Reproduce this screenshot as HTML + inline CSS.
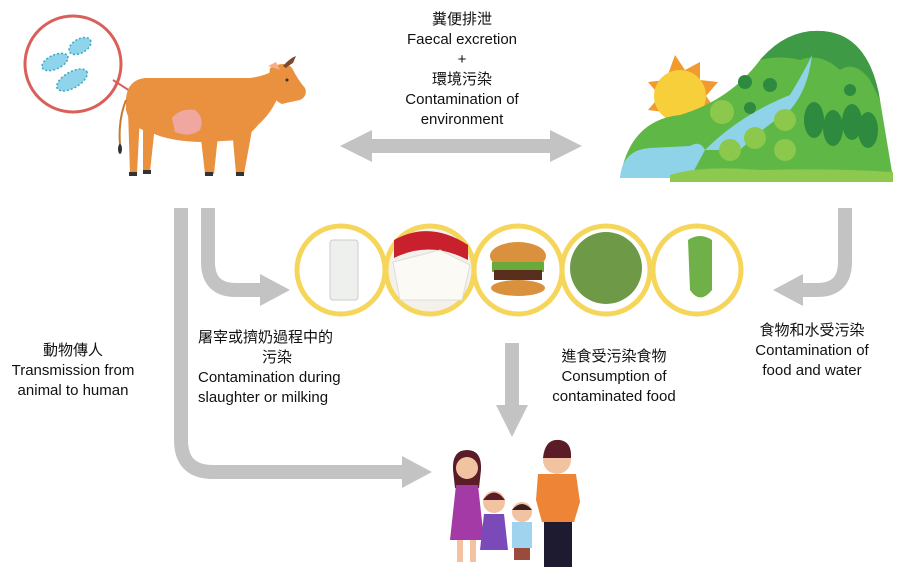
<!DOCTYPE html>
<html><head><meta charset="utf-8"><style>
body{margin:0;background:#fff;}
.t{position:absolute;font-family:"Liberation Sans","Noto Sans CJK TC",sans-serif;font-size:15px;color:#111;text-align:center;line-height:20px;white-space:nowrap}
</style></head><body>
<div style="position:relative;width:900px;height:576px;overflow:hidden">
<svg width="900" height="576" style="position:absolute;left:0;top:0">
<g fill="none" stroke="#c3c3c3" stroke-width="14">
<line x1="370" y1="146" x2="552" y2="146"/>
<path d="M181 208 V440 Q181 472 213 472 H405"/>
<path d="M208 208 V262 Q208 290 236 290 H262"/>
<path d="M845 208 V262 Q845 290 817 290 H800"/>
<line x1="512" y1="343" x2="512" y2="405"/>
</g>
<g fill="#c3c3c3">
<polygon points="340,146 372,130 372,162"/>
<polygon points="582,146 550,130 550,162"/>
<polygon points="432,472 402,456 402,488"/>
<polygon points="290,290 260,274 260,306"/>
<polygon points="773,290 803,274 803,306"/>
<polygon points="512,437 496,405 528,405"/>
</g>
<!-- cow -->
<g>
<circle cx="73" cy="64" r="48" fill="#fff" stroke="#d9605a" stroke-width="3"/>
<line x1="113" y1="80" x2="178" y2="122" stroke="#d9605a" stroke-width="2"/>
<g fill="#8fd4ea" stroke="#3aa7c4" stroke-width="1.5" stroke-dasharray="2 2">
<ellipse cx="55" cy="62" rx="14" ry="7" transform="rotate(-25 55 62)"/>
<ellipse cx="80" cy="46" rx="12" ry="7" transform="rotate(-30 80 46)"/>
<ellipse cx="72" cy="80" rx="17" ry="8" transform="rotate(-30 72 80)"/>
</g>
<path d="M126 98 Q128 80 145 78 L250 78 Q265 76 275 70 L282 86 Q275 110 258 125 Q250 135 240 140 L205 142 Q170 142 150 132 Q130 128 126 110Z" fill="#e9913e"/>
<path d="M270 68 Q285 60 292 68 Q298 80 305 88 Q308 96 300 100 Q290 102 282 104 Q272 100 268 85Z" fill="#e9913e"/>
<path d="M268 66 L276 62 L280 70 Z" fill="#f3b08a"/>
<path d="M283 66 Q290 58 296 56 L293 63 Q288 66 286 68Z" fill="#7a4a30"/>
<circle cx="287" cy="80" r="1.5" fill="#333"/>
<g fill="#e9913e">
<path d="M128 110 L140 115 L137 174 L130 174Z"/>
<path d="M143 118 L155 125 L150 172 L143 172Z"/>
<path d="M200 130 L218 135 L214 174 L205 174Z"/>
<path d="M232 128 L252 130 L244 174 L236 174Z"/>
</g>
<path d="M126 100 Q118 120 120 145" stroke="#c47a35" stroke-width="2" fill="none"/>
<ellipse cx="120" cy="149" rx="2" ry="5" fill="#333"/>
<path d="M172 118 Q180 108 195 110 Q205 118 200 130 Q190 138 175 132Z" fill="#f0a7a0"/>
<g fill="#333"><rect x="129" y="172" width="8" height="4"/><rect x="143" y="170" width="8" height="4"/><rect x="205" y="172" width="8" height="4"/><rect x="236" y="172" width="8" height="4"/></g>
</g>
<!-- landscape -->
<g>
<polygon points="675,55 685,70 700,62 700,80 718,82 706,96 716,110 698,112 696,128 680,120 668,130 664,112 648,110 660,96 648,82 666,80" fill="#f29a2e"/>
<circle cx="680" cy="96" r="26" fill="#f6cf3a"/>
<path d="M620 178 Q630 120 680 115 Q730 100 760 60 Q790 25 830 32 Q870 40 880 100 L893 178Z" fill="#5fb845"/>
<path d="M760 60 Q790 25 830 32 Q870 40 880 100 L870 80 Q855 60 840 70 Q820 52 800 60 Q780 55 760 60Z" fill="#3f9a45"/>
<path d="M620 178 Q622 150 650 148 L690 146 Q700 140 705 150 L690 178Z" fill="#8fd3e8"/>
<path d="M705 150 Q740 115 790 95 Q805 70 812 55 Q808 90 790 110 Q760 130 740 150Z" fill="#8fd3e8"/>
<path d="M670 175 Q700 165 760 170 Q830 168 893 172 L893 182 L670 182Z" fill="#8dc84f"/>
<g fill="#2e8a3e"><ellipse cx="814" cy="120" rx="10" ry="18"/><ellipse cx="833" cy="128" rx="10" ry="18"/><ellipse cx="852" cy="122" rx="10" ry="18"/><ellipse cx="868" cy="130" rx="10" ry="18"/></g>
<g fill="#8cc84b"><circle cx="722" cy="112" r="12"/><circle cx="755" cy="138" r="11"/><circle cx="785" cy="120" r="11"/><circle cx="730" cy="150" r="11"/><circle cx="785" cy="150" r="11"/></g>
<g fill="#2e8a3e"><circle cx="745" cy="82" r="7"/><circle cx="770" cy="85" r="7"/><circle cx="750" cy="108" r="6"/><circle cx="850" cy="90" r="6"/></g>
</g>
<!-- food circles -->
<g stroke="#f5d65a" stroke-width="5">
<circle cx="341" cy="270" r="44" fill="#fff"/>
<circle cx="430" cy="270" r="44" fill="#f4f0ea"/>
<circle cx="518" cy="270" r="44" fill="#fff"/>
<circle cx="606" cy="270" r="44" fill="#fff"/>
<circle cx="697" cy="270" r="44" fill="#fff"/>
</g>
<rect x="330" y="240" width="28" height="60" rx="3" fill="#eef0ee" stroke="#ccc"/>
<path d="M394 240 Q430 220 468 245 L468 260 Q430 240 394 258Z" fill="#c8202d"/>
<path d="M393 262 L440 250 L470 265 L462 300 L400 300Z" fill="#fbfaf5" stroke="#ddd"/>
<ellipse cx="518" cy="256" rx="28" ry="14" fill="#d9913d"/>
<rect x="492" y="262" width="52" height="10" fill="#6aaa3a"/>
<rect x="494" y="270" width="48" height="10" fill="#5a2e1e"/>
<ellipse cx="518" cy="288" rx="27" ry="8" fill="#d9913d"/>
<circle cx="606" cy="268" r="36" fill="#6e9a48"/>
<path d="M688 240 Q700 232 712 240 L712 290 Q700 305 690 290Z" fill="#6fb048"/>
<!-- family -->
<g>
<path d="M453 470 Q452 450 467 450 Q482 450 481 470 L479 488 L455 488Z" fill="#5a1d28"/>
<circle cx="467" cy="468" r="11" fill="#f2c3a0"/>
<path d="M456 485 H478 L484 540 H450Z" fill="#a43aa6"/>
<rect x="457" y="540" width="6" height="22" fill="#f2c3a0"/><rect x="470" y="540" width="6" height="22" fill="#f2c3a0"/>
<circle cx="494" cy="502" r="11" fill="#f2c3a0"/><path d="M483 500 Q494 485 505 500Z" fill="#5a1d28"/>
<path d="M484 514 H504 L508 550 H480Z" fill="#7a4bb8"/>
<circle cx="522" cy="512" r="10" fill="#f2c3a0"/><path d="M512 510 Q522 498 532 510Z" fill="#3a1e20"/>
<rect x="512" y="522" width="20" height="26" fill="#9fd3ee"/><rect x="514" y="548" width="16" height="12" fill="#9b4b3b"/>
<circle cx="557" cy="460" r="14" fill="#f2c3a0"/><path d="M543 458 Q545 438 560 440 Q572 442 571 458Z" fill="#5a1d28"/>
<path d="M538 474 H576 L580 502 L574 522 H542 L536 500Z" fill="#ee8435"/>
<rect x="544" y="522" width="28" height="45" fill="#1e1a30"/>
</g>
</svg>
<div class="t" style="left:362px;top:10px;width:200px">糞便排泄<br>Faecal excretion<br>+<br>環境污染<br>Contamination of<br>environment</div>
<div class="t" style="left:0;top:341px;width:146px">動物傳人<br>Transmission from<br>animal to human</div>
<div class="t" style="left:198px;top:328px;text-align:left">屠宰或擠奶過程中的<br><span style="margin-left:64px">污染</span><br>Contamination during<br>slaughter or milking</div>
<div class="t" style="left:534px;top:347px;width:160px">進食受污染食物<br>Consumption of<br>contaminated food</div>
<div class="t" style="left:732px;top:321px;width:160px">食物和水受污染<br>Contamination of<br>food and water</div>
</div>
</body></html>
